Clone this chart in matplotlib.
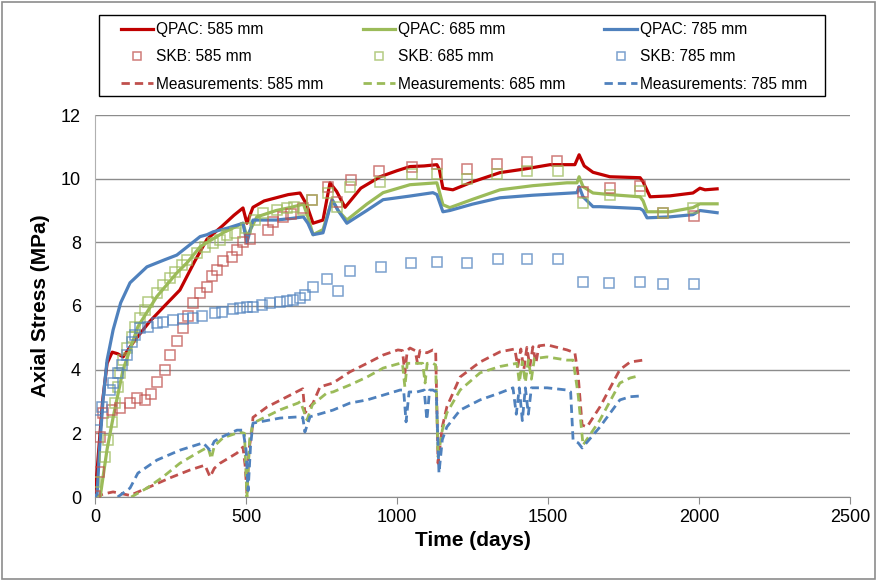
import matplotlib
matplotlib.use("Agg")
import matplotlib.pyplot as plt
from matplotlib.patches import Rectangle

plt.rcParams['font.family'] = ['Liberation Sans Narrow', 'Liberation Sans', 'DejaVu Sans']

# QPAC model curves (days, MPa)
qpac585_t = [0, 10, 25, 40, 57, 75, 93, 130, 180, 230, 281, 330, 371, 420, 460, 490, 503, 523,
             560, 600, 640, 679, 700, 722, 755, 778, 800, 828, 880, 944, 1000, 1043, 1090, 1132,
             1140, 1152, 1185, 1250, 1341, 1420, 1507, 1589, 1603, 1620, 1649, 1705, 1805, 1815,
             1838, 1904, 1980, 2003, 2020, 2060]
qpac585_v = [0.0, 1.2, 3.0, 4.2, 4.55, 4.5, 4.4, 4.9, 5.5, 6.0, 6.5, 7.4, 8.1, 8.5, 8.85, 9.08, 8.6,
             9.1, 9.3, 9.4, 9.5, 9.55, 9.2, 8.6, 8.7, 9.87, 9.6, 9.1, 9.7, 10.06, 10.25, 10.38,
             10.4, 10.44, 10.3, 9.7, 9.65, 9.9, 10.19, 10.3, 10.44, 10.44, 10.75, 10.4, 10.2, 10.06,
             10.03, 9.9, 9.43, 9.46, 9.55, 9.7, 9.65, 9.68]
qpac685_t = [0, 17, 40, 60, 93, 142, 205, 271, 305, 348, 424, 490, 503, 536, 600, 650, 690, 705,
             722, 755, 785, 805, 834, 900, 954, 1043, 1132, 1140, 1152, 1175, 1250, 1341, 1450,
             1563, 1596, 1603, 1616, 1649, 1705, 1805, 1815, 1828, 1904, 1980, 2003, 2060]
qpac685_v = [0.0, 0.0, 1.5, 2.5, 4.0, 5.35, 6.3, 7.04, 7.36, 7.86, 8.3, 8.6, 8.18, 8.8, 9.0, 9.1,
             9.2, 8.8, 8.24, 8.4, 9.34, 9.0, 8.7, 9.2, 9.56, 9.81, 9.87, 9.6, 9.18, 9.09, 9.35,
             9.65, 9.78, 9.87, 9.87, 10.06, 9.75, 9.55, 9.5, 9.43, 9.3, 8.96, 8.96, 9.09, 9.21, 9.21]
qpac785_t = [0, 7, 15, 27, 40, 60, 85, 116, 172, 230, 271, 348, 371, 391, 440, 490, 503, 523, 600,
             650, 690, 705, 722, 755, 785, 805, 834, 900, 954, 1040, 1119, 1132, 1152, 1175, 1250,
             1341, 1450, 1596, 1603, 1616, 1649, 1672, 1805, 1815, 1828, 1904, 1980, 2003, 2060]
qpac785_v = [0.0, 0.1, 1.5, 3.1, 4.3, 5.25, 6.1, 6.73, 7.23, 7.45, 7.6, 8.18, 8.24, 8.33, 8.45, 8.6,
             7.99, 8.7, 8.7, 8.75, 8.8, 8.6, 8.24, 8.3, 9.34, 9.0, 8.6, 9.0, 9.34, 9.45, 9.56, 9.5,
             8.96, 9.0, 9.2, 9.4, 9.48, 9.56, 9.75, 9.43, 9.12, 9.12, 9.06, 9.0, 8.77, 8.8, 8.87,
             9.0, 8.93]

# SKB model points
skb585_t = [0, 13, 17, 27, 56, 83, 116, 139, 166, 185, 205, 232, 248, 271, 291, 308, 325, 348,
            371, 387, 404, 424, 454, 470, 490, 513, 573, 589, 622, 650, 689, 719, 772, 801, 847,
            940, 1049, 1132, 1232, 1331, 1430, 1530, 1616, 1705, 1805, 1881, 1983]
skb585_v = [0.03, 0.8, 1.9, 2.65, 2.74, 2.8, 2.95, 3.1, 3.05, 3.24, 3.6, 4.0, 4.47, 4.9, 5.3,
            5.7, 6.1, 6.4, 6.6, 6.95, 7.14, 7.4, 7.55, 7.77, 8.0, 8.1, 8.4, 8.65, 8.8, 8.9, 9.08,
            9.34, 9.75, 9.28, 9.97, 10.25, 10.38, 10.47, 10.31, 10.47, 10.53, 10.56, 9.59, 9.7,
            9.78, 8.93, 8.84]
skb685_t = [0, 33, 43, 56, 66, 76, 83, 93, 106, 122, 132, 149, 166, 175, 205, 225, 248, 265, 288,
            305, 338, 364, 391, 414, 437, 464, 500, 530, 556, 603, 636, 660, 689, 719, 772, 801,
            844, 944, 1049, 1132, 1232, 1331, 1430, 1533, 1616, 1705, 1805, 1881, 1980]
skb685_v = [0.47, 1.26, 1.79, 2.36, 2.95, 3.46, 3.9, 4.3, 4.68, 5.03, 5.35, 5.63, 5.88, 6.13,
            6.41, 6.67, 6.89, 7.08, 7.3, 7.45, 7.67, 7.86, 7.99, 8.08, 8.24, 8.3, 8.45, 8.7, 8.93,
            9.03, 9.09, 9.1, 9.03, 9.34, 9.56, 9.12, 9.75, 9.9, 10.16, 10.16, 10.0, 10.16, 10.25,
            10.25, 9.25, 9.5, 9.62, 8.93, 9.09]
skb785_t = [7, 23, 50, 60, 76, 89, 106, 122, 132, 149, 175, 205, 225, 258, 290, 325, 354, 397,
            420, 457, 480, 503, 523, 553, 579, 613, 636, 656, 679, 695, 722, 768, 805, 844, 947,
            1046, 1132, 1232, 1334, 1430, 1533, 1616, 1702, 1805, 1881, 1983]
skb785_v = [2.42, 2.83, 3.36, 3.58, 3.9, 4.15, 4.47, 4.87, 5.09, 5.31, 5.35, 5.47, 5.5, 5.57,
            5.6, 5.63, 5.69, 5.79, 5.82, 5.91, 5.94, 5.97, 5.97, 6.04, 6.1, 6.13, 6.16, 6.19, 6.26,
            6.35, 6.6, 6.85, 6.48, 7.1, 7.23, 7.36, 7.39, 7.36, 7.48, 7.48, 7.48, 6.76, 6.73, 6.76,
            6.7, 6.7]

# Measurements
meas585_t = [0, 30, 60, 116, 172, 248, 315, 364, 381, 395, 414, 470, 490, 497, 503, 510, 520, 523,
             570, 636, 679, 688, 695, 722, 745, 788, 844, 901, 954, 1003, 1018, 1026, 1034, 1043,
             1060, 1068, 1076, 1099, 1119, 1128, 1136, 1150, 1165, 1209, 1275, 1341, 1390, 1400,
             1410, 1420, 1430, 1440, 1450, 1460, 1470, 1497, 1563, 1589, 1600, 1613, 1629, 1672,
             1738, 1772, 1815]
meas585_v = [0.0, 0.1, 0.16, 0.05, 0.28, 0.6, 0.85, 1.0, 0.63, 0.9, 1.06, 1.38, 1.57, 1.0, 0.13,
             1.5, 2.1, 2.5, 2.83, 3.15, 3.36, 3.4, 2.64, 2.95, 3.46, 3.58, 3.93, 4.2, 4.46, 4.62,
             4.6, 3.9, 4.6, 4.68, 4.6, 4.2, 4.6, 4.53, 4.62, 4.6, 1.06, 2.2, 2.83, 3.77, 4.24, 4.56,
             4.65, 4.1, 4.65, 4.0, 4.7, 4.1, 4.72, 4.2, 4.75, 4.78, 4.62, 4.53, 3.8, 2.26, 2.2, 2.83,
             4.0, 4.24, 4.3]
meas685_t = [120, 172, 225, 281, 338, 374, 385, 395, 424, 480, 495, 503, 512, 523, 613, 672, 680,
             702, 720, 768, 788, 844, 901, 954, 1010, 1018, 1026, 1034, 1053, 1085, 1093, 1100,
             1119, 1128, 1136, 1150, 1165, 1209, 1275, 1341, 1397, 1405, 1415, 1425, 1435, 1445,
             1455, 1497, 1563, 1583, 1600, 1616, 1672, 1738, 1772, 1798]
meas685_v = [0.0, 0.28, 0.63, 1.06, 1.38, 1.57, 1.2, 1.6, 1.86, 2.04, 2.0, 0.0, 1.8, 2.32, 2.74,
             2.95, 3.0, 2.42, 2.9, 3.27, 3.3, 3.52, 3.77, 4.05, 4.2, 4.2, 3.46, 4.2, 4.2, 4.2, 3.58,
             4.2, 4.2, 4.15, 1.26, 2.1, 2.64, 3.36, 3.9, 4.1, 4.2, 3.6, 4.25, 3.6, 4.3, 3.7, 4.35,
             4.4, 4.3, 4.3, 3.2, 1.63, 2.42, 3.58, 3.74, 3.8]
meas785_t = [75, 116, 142, 205, 281, 358, 381, 395, 414, 470, 490, 500, 507, 515, 523, 613, 679,
             688, 695, 712, 788, 844, 901, 954, 1010, 1022, 1030, 1040, 1066, 1090, 1099, 1108,
             1119, 1130, 1139, 1150, 1165, 1209, 1275, 1341, 1384, 1395, 1405, 1415, 1425, 1435,
             1445, 1455, 1497, 1563, 1575, 1583, 1600, 1613, 1672, 1738, 1772, 1815]
meas785_v = [0.0, 0.28, 0.75, 1.16, 1.47, 1.7, 1.47, 1.75, 1.86, 2.1, 2.1, 1.5, 0.2, 1.6, 2.32,
             2.48, 2.52, 2.5, 2.04, 2.52, 2.73, 2.95, 3.05, 3.2, 3.36, 3.36, 2.36, 3.3, 3.3, 3.36,
             2.42, 3.36, 3.36, 3.3, 0.75, 1.8, 2.2, 2.73, 3.05, 3.27, 3.43, 2.6, 3.43, 2.4, 3.43,
             2.6, 3.43, 3.43, 3.43, 3.36, 3.3, 1.79, 1.7, 1.54, 2.2, 3.05, 3.15, 3.18]

red, green, blue = '#C00000', '#9BBB59', '#4F81BD'
red_m = '#C0504D'

fig = plt.figure(figsize=(8.77, 5.81), dpi=100)
ax = fig.add_axes([95 / 877, 1 - 497 / 581, 755 / 877, 382 / 581])

handles = []
groups = [
    ('585', qpac585_t, qpac585_v, skb585_t, skb585_v, meas585_t, meas585_v, red, red_m),
    ('685', qpac685_t, qpac685_v, skb685_t, skb685_v, meas685_t, meas685_v, green, green),
    ('785', qpac785_t, qpac785_v, skb785_t, skb785_v, meas785_t, meas785_v, blue, blue),
]
for name, qt, qv, st, sv, mt, mv, c, cm in groups:
    l1, = ax.plot(qt, qv, color=c, lw=2.3, zorder=3, label='QPAC: %s mm' % name)
    l2, = ax.plot(st, sv, ls='none', marker='s', ms=7, mfc='none', mec=cm, mew=1.1, alpha=0.75,
                  zorder=4, label='SKB: %s mm' % name)
    l3, = ax.plot(mt, mv, color=cm, lw=2.0, ls=(0, (3, 1.8)), zorder=3,
                  label='Measurements: %s mm' % name)
    handles += [l1, l2, l3]

ax.set_xlim(0, 2500)
ax.set_ylim(0, 12)
ax.set_xticks(range(0, 2501, 500))
ax.set_yticks(range(0, 13, 2))
ax.yaxis.grid(True, color='#8c8c8c', lw=1.0)
ax.set_axisbelow(True)
for s in ['top', 'right']:
    ax.spines[s].set_visible(False)
ax.spines['left'].set_color('#b0b0b0')
ax.spines['bottom'].set_color('#8c8c8c')
ax.tick_params(axis='y', length=0, labelsize=13, pad=10)
ax.tick_params(axis='x', direction='out', length=5, color='#8c8c8c', labelsize=13)
ax.set_xlabel('Time (days)', fontsize=15, fontweight='bold')
ax.set_ylabel('Axial Stress (MPa)', fontsize=15, fontweight='bold', labelpad=8)

# legend content without its own frame; box drawn separately
fig.legend(handles=handles, ncol=3, loc='upper left', bbox_to_anchor=(121 / 877, 1 - 22 / 581),
           borderaxespad=0, borderpad=0, fontsize=11.2, frameon=False,
           handlelength=2.08, handletextpad=0.2, columnspacing=2.5, labelspacing=0.79,
           markerscale=0.75)
fig.patches.append(Rectangle((99 / 877, 1 - 96 / 581), 726 / 877, 81 / 581, transform=fig.transFigure,
                             fill=False, edgecolor='black', lw=1.0))

fig.patches.append(Rectangle((0.002, 0.003), 0.996, 0.994, transform=fig.transFigure,
                             fill=False, edgecolor='#8c8c8c', lw=1.2))

fig.savefig('out.png', dpi=100)
